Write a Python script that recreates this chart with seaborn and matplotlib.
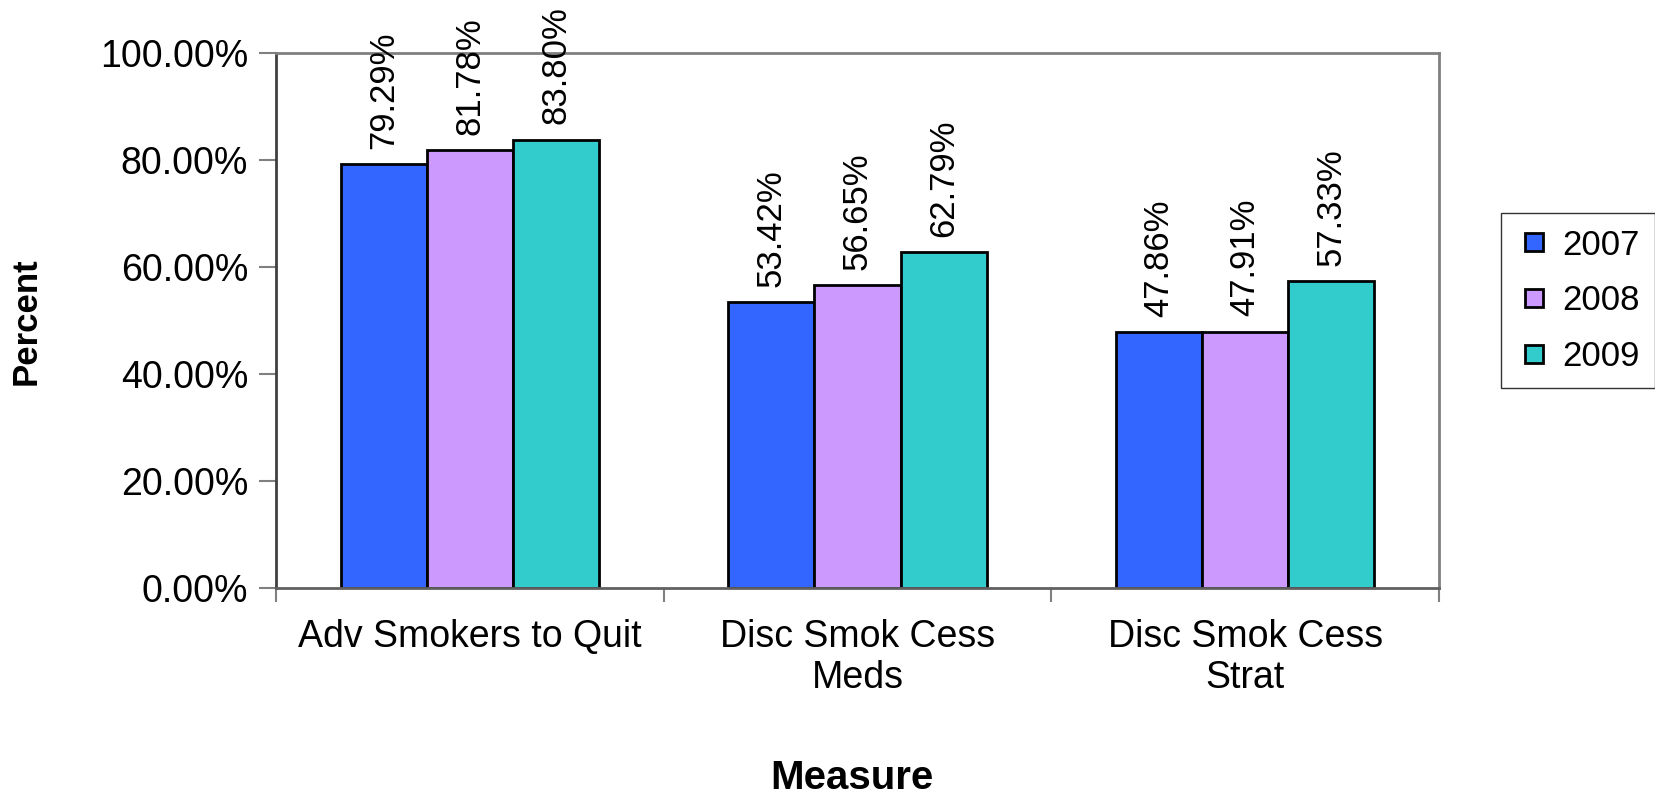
import matplotlib
matplotlib.use("Agg")
import matplotlib.pyplot as plt
import seaborn as sns
import pandas as pd
from matplotlib.ticker import FixedLocator, FuncFormatter
from matplotlib.lines import Line2D

categories = ["Adv Smokers to Quit", "Disc Smok Cess\nMeds", "Disc Smok Cess\nStrat"]
years = ["2007", "2008", "2009"]
vals_2007 = [79.29, 53.42, 47.86]
vals_2008 = [81.78, 56.65, 47.91]
vals_2009 = [83.80, 62.79, 57.33]
colors = ["#3366FF", "#CC99FF", "#33CCCC"]

rows = []
for y, vals in zip(years, [vals_2007, vals_2008, vals_2009]):
    for c, v in zip(categories, vals):
        rows.append({"Measure": c, "Year": y, "Percent": v})
df = pd.DataFrame(rows)

sns.set_theme(style="white")
plt.rcParams["font.family"] = ["Liberation Sans", "DejaVu Sans"]
plt.rcParams["text.color"] = "black"
plt.rcParams["xtick.color"] = "black"
plt.rcParams["ytick.color"] = "black"
plt.rcParams["axes.labelcolor"] = "black"

fig = plt.figure(figsize=(16.56, 7.94), dpi=100)
ax = fig.add_axes([276/1656, 1-588/794, (1439-276)/1656, (588-53)/794])

sns.barplot(data=df, x="Measure", y="Percent", hue="Year", palette=colors,
            width=0.667, edgecolor="black", linewidth=2, saturation=1,
            ax=ax, legend=False, errorbar=None)

for cont in ax.containers:
    ax.bar_label(cont, labels=[f"{v:.2f}%" for v in cont.datavalues],
                 rotation=90, padding=11, fontsize=25, color="black")

ax.set_ylim(0, 100)
ax.set_xlim(-0.5, 2.5)
ax.set_yticks([0, 20, 40, 60, 80, 100])
ax.yaxis.set_major_formatter(FuncFormatter(lambda v, p: f"{v:.2f}%"))
ax.tick_params(axis="y", which="major", direction="out", length=12, width=1.5,
               color="#808080", labelcolor="black", labelsize=27, pad=8, left=True)

ax.xaxis.set_major_locator(FixedLocator([-0.5, 0.5, 1.5, 2.5]))
ax.xaxis.set_minor_locator(FixedLocator([0, 1, 2]))
ax.set_xticklabels([""] * 4)
ax.set_xticklabels(categories, minor=True)
ax.tick_params(axis="x", which="major", direction="out", length=10, width=1.5,
               color="#808080", bottom=True)
ax.tick_params(axis="x", which="minor", length=0, labelsize=27, pad=22,
               labelcolor="black")

for s in ax.spines.values():
    s.set_color("#808080")
    s.set_linewidth(2)
ax.spines["left"].set_color("#404040")
ax.spines["bottom"].set_color("#606060")

ax.set_xlabel("")
ax.set_ylabel("")
fig.text(26/1656, 1-321/794, "Percent", rotation=90, fontsize=25, fontweight="bold",
         ha="center", va="center", color="black")
fig.text(852/1656, 1-778/794, "Measure", fontsize=29, fontweight="bold",
         ha="center", va="center", color="black")

handles = [Line2D([], [], marker="s", linestyle="", markersize=13,
                  markerfacecolor=c, markeredgecolor="black", markeredgewidth=2)
           for c in colors]
leg = fig.legend(handles, years, loc="upper left",
                 bbox_to_anchor=(1501/1656, 1-213/794), fontsize=25,
                 frameon=True, fancybox=False, edgecolor="black",
                 handletextpad=0.3, labelspacing=0.65, borderpad=0.45,
                 handlelength=1.0, borderaxespad=0)
leg.get_frame().set_linewidth(1)

fig.savefig("out.png", dpi=100, facecolor="white")
